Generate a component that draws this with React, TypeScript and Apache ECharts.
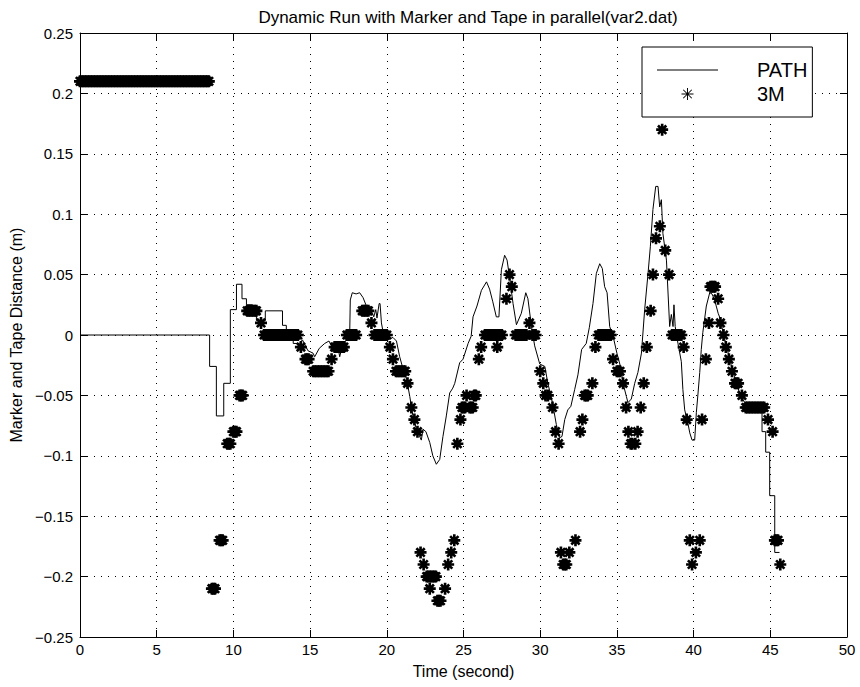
import React, { useEffect, useRef } from "react";
import * as echarts from "echarts";

const titleText = "Dynamic Run with Marker and Tape in parallel(var2.dat)";
const xName = "Time (second)";
const yName = "Marker and Tape Distance (m)";

// PATH: [time (s), distance (m)]
const pathPoints: [number, number][] = [
  [0, 0], [8.45, 0], [8.45, -0.026], [8.89, -0.026], [8.89, -0.067], [9.37, -0.067],
  [9.37, -0.04], [9.8, -0.04], [9.8, 0.021], [10.2, 0.021], [10.2, 0.042], [10.56, 0.042],
  [10.56, 0.03], [10.85, 0.03], [10.85, 0.025], [11.24, 0.025], [11.24, 0.02], [11.5, 0.02],
  [11.5, 0.012], [12.08, 0.012], [12.08, 0.02], [13.2, 0.02], [13.2, 0.008], [13.45, 0.008],
  [13.45, 0], [13.9, 0], [13.9, -0.007], [14.3, -0.007], [14.5, -0.004], [14.86, -0.013],
  [15.19, -0.015], [15.3, -0.018], [15.6, -0.011], [15.95, -0.007], [16.23, -0.005],
  [16.4, -0.009], [16.8, -0.009], [16.93, -0.018], [17.04, -0.012], [17.26, -0.006],
  [17.58, 0], [17.62, 0.029], [17.75, 0.035], [18.0, 0.034], [18.23, 0.035], [18.45, 0.031],
  [18.67, 0.024], [18.89, 0.021], [19.06, 0.018], [19.15, 0.015], [19.28, 0.021],
  [19.36, 0.014], [19.5, 0.026], [19.56, 0.026], [19.65, 0.01], [19.75, 0.003],
  [20.08, -0.004], [20.4, -0.002], [20.63, -0.005], [20.84, -0.018], [21.1, -0.03],
  [21.3, -0.037], [21.5, -0.051], [21.7, -0.067], [21.93, -0.078], [22.25, -0.087],
  [22.36, -0.078], [22.55, -0.08], [22.8, -0.089], [23.0, -0.1], [23.23, -0.107],
  [23.45, -0.103], [23.66, -0.084], [23.88, -0.067], [24.1, -0.048], [24.3, -0.044],
  [24.43, -0.04], [24.75, -0.023], [24.97, -0.02], [25.3, -0.007], [25.5, -0.001],
  [25.62, 0.015], [25.88, 0.024], [26.17, 0.037], [26.5, 0.044], [26.7, 0.038],
  [26.9, 0.028], [27.14, 0.015], [27.31, 0.015], [27.47, 0.054], [27.68, 0.066],
  [27.84, 0.062], [28.0, 0.048], [28.23, 0.026], [28.45, 0.0085], [28.77, 0.018],
  [29.06, 0.035], [29.2, 0.03], [29.43, 0.007], [29.64, -0.009], [29.97, -0.024],
  [30.3, -0.026], [30.5, -0.04], [30.8, -0.056], [31.05, -0.074], [31.27, -0.085],
  [31.42, -0.084], [31.6, -0.07], [31.8, -0.062], [32.0, -0.059], [32.25, -0.045],
  [32.46, -0.033], [32.7, -0.012], [33.0, -0.007], [33.2, 0.006], [33.44, 0.026],
  [33.66, 0.051], [33.88, 0.059], [34.05, 0.055], [34.2, 0.04], [34.36, 0.035],
  [34.53, 0.007], [34.75, -0.001], [35.0, -0.015], [35.23, -0.026], [35.4, -0.04],
  [35.62, -0.051], [35.72, -0.056], [35.94, -0.053], [36.16, -0.04], [36.37, -0.031],
  [36.6, -0.015], [36.81, 0.021], [37.03, 0.051], [37.18, 0.073], [37.35, 0.104],
  [37.53, 0.123], [37.68, 0.123], [37.79, 0.106], [37.9, 0.112], [38.0, 0.084],
  [38.23, 0.062], [38.44, 0.007], [38.55, 0.017], [38.66, 0.007], [38.72, 0.025],
  [38.8, 0.007], [38.98, -0.007], [39.2, -0.022], [39.3, -0.045], [39.42, -0.062],
  [39.63, -0.073], [39.75, -0.081], [39.9, -0.087], [40.07, -0.087], [40.18, -0.064],
  [40.29, -0.048], [40.4, -0.031], [40.5, -0.012], [40.6, 0.002], [40.83, 0.024],
  [41.05, 0.035], [41.2, 0.034], [41.37, 0.029], [41.6, 0.018], [41.75, 0.013],
  [41.92, 0.002], [42.14, -0.009], [42.35, -0.02], [42.57, -0.031], [42.8, -0.04],
  [43.0, -0.048], [43.33, -0.056], [43.65, -0.059], [44.46, -0.06], [44.46, -0.08],
  [44.7, -0.08], [44.7, -0.097], [44.96, -0.097], [44.96, -0.133], [45.29, -0.133],
  [45.29, -0.18], [45.6, -0.18],
];

// 3M marker readings: [time (s), distance (m)]
const markerPoints: [number, number][] = [
  [0.0, 0.21], [0.1, 0.21], [0.2, 0.21], [0.3, 0.21], [0.4, 0.21], [0.5, 0.21],
  [0.6, 0.21], [0.7, 0.21], [0.8, 0.21], [0.9, 0.21], [1.0, 0.21], [1.1, 0.21],
  [1.2, 0.21], [1.3, 0.21], [1.4, 0.21], [1.5, 0.21], [1.6, 0.21], [1.7, 0.21],
  [1.8, 0.21], [1.9, 0.21], [2.0, 0.21], [2.1, 0.21], [2.2, 0.21], [2.3, 0.21],
  [2.4, 0.21], [2.5, 0.21], [2.6, 0.21], [2.7, 0.21], [2.8, 0.21], [2.9, 0.21],
  [3.0, 0.21], [3.1, 0.21], [3.2, 0.21], [3.3, 0.21], [3.4, 0.21], [3.5, 0.21],
  [3.6, 0.21], [3.7, 0.21], [3.8, 0.21], [3.9, 0.21], [4.0, 0.21], [4.1, 0.21],
  [4.2, 0.21], [4.3, 0.21], [4.4, 0.21], [4.5, 0.21], [4.6, 0.21], [4.7, 0.21],
  [4.8, 0.21], [4.9, 0.21], [5.0, 0.21], [5.1, 0.21], [5.2, 0.21], [5.3, 0.21],
  [5.4, 0.21], [5.5, 0.21], [5.6, 0.21], [5.7, 0.21], [5.8, 0.21], [5.9, 0.21],
  [6.0, 0.21], [6.1, 0.21], [6.2, 0.21], [6.3, 0.21], [6.4, 0.21], [6.5, 0.21],
  [6.6, 0.21], [6.7, 0.21], [6.8, 0.21], [6.9, 0.21], [7.0, 0.21], [7.1, 0.21],
  [7.2, 0.21], [7.3, 0.21], [7.4, 0.21], [7.5, 0.21], [7.6, 0.21], [7.7, 0.21],
  [7.8, 0.21], [7.9, 0.21], [8.0, 0.21], [8.1, 0.21], [8.2, 0.21], [8.3, 0.21],
  [8.4, 0.21],
  [8.6, -0.21], [8.7, -0.21], [8.8, -0.21], [9.1, -0.17], [9.2, -0.17], [9.3, -0.17],
  [9.6, -0.09], [9.7, -0.09], [9.8, -0.09], [10.0, -0.08], [10.1, -0.08], [10.2, -0.08],
  [10.4, -0.05], [10.5, -0.05], [10.6, -0.05],
  [10.9, 0.02], [11.0, 0.02], [11.1, 0.02], [11.2, 0.02], [11.3, 0.02], [11.4, 0.02],
  [11.5, 0.02], [11.8, 0.01],
  [12.0, 0], [12.1, 0], [12.2, 0], [12.3, 0], [12.4, 0], [12.5, 0], [12.6, 0], [12.7, 0],
  [12.8, 0], [12.9, 0], [13.0, 0], [13.1, 0], [13.2, 0], [13.3, 0], [13.4, 0], [13.5, 0],
  [13.6, 0], [13.7, 0], [13.8, 0], [13.9, 0], [14.0, 0], [14.1, 0], [14.2, 0],
  [14.4, -0.01], [14.7, -0.02], [14.8, -0.02], [14.9, -0.02],
  [15.2, -0.03], [15.3, -0.03], [15.4, -0.03], [15.5, -0.03], [15.6, -0.03], [15.7, -0.03],
  [15.8, -0.03], [15.9, -0.03], [16.0, -0.03], [16.1, -0.03], [16.2, -0.03],
  [16.4, -0.02], [16.6, -0.01], [16.7, -0.01], [16.8, -0.01], [16.9, -0.01], [17.0, -0.01],
  [17.1, -0.01], [17.2, -0.01],
  [17.4, 0], [17.5, 0], [17.6, 0], [17.7, 0], [17.8, 0], [17.9, 0], [18.0, 0],
  [18.4, 0.02], [18.5, 0.02], [18.6, 0.02], [18.7, 0.02], [18.8, 0.02], [19.0, 0.01],
  [19.2, 0], [19.3, 0], [19.4, 0], [19.5, 0], [19.6, 0], [19.7, 0], [19.8, 0], [19.9, 0],
  [20.0, 0], [20.2, -0.01], [20.4, -0.02],
  [20.6, -0.03], [20.7, -0.03], [20.8, -0.03], [20.9, -0.03], [21.0, -0.03], [21.1, -0.03],
  [21.2, -0.03], [21.35, -0.04], [21.6, -0.06], [21.8, -0.07], [22.0, -0.08],
  [22.2, -0.18], [22.4, -0.19], [22.6, -0.2], [22.7, -0.2], [22.8, -0.21], [22.8, -0.2],
  [22.9, -0.2], [23.0, -0.2], [23.1, -0.2], [23.2, -0.2], [23.3, -0.22], [23.4, -0.22],
  [23.5, -0.22], [23.8, -0.21], [24.0, -0.19], [24.2, -0.18], [24.4, -0.17],
  [24.6, -0.09], [24.8, -0.07],
  [24.9, -0.06], [25.0, -0.06], [25.1, -0.06], [25.2, -0.05], [25.4, -0.06], [25.5, -0.06],
  [25.6, -0.06], [25.7, -0.05], [25.8, -0.05],
  [26.0, -0.02], [26.15, -0.01],
  [26.4, 0], [26.5, 0], [26.6, 0], [26.7, 0], [26.8, 0], [26.9, 0], [27.0, 0], [27.1, 0],
  [27.2, -0.01], [27.2, 0], [27.3, 0], [27.4, 0], [27.5, 0],
  [27.8, 0.03], [28.0, 0.05], [28.15, 0.04],
  [28.4, 0], [28.5, 0], [28.6, 0], [28.7, 0], [28.8, 0], [28.9, 0], [29.0, 0], [29.1, 0],
  [29.3, 0.01], [29.5, 0], [29.6, 0], [29.7, 0],
  [30.0, -0.03], [30.2, -0.04], [30.35, -0.05], [30.5, -0.05], [30.8, -0.06],
  [31.0, -0.08], [31.2, -0.09],
  [31.35, -0.18], [31.5, -0.19], [31.6, -0.19], [31.7, -0.19], [31.9, -0.18], [32.3, -0.17],
  [32.6, -0.08], [32.75, -0.07], [32.9, -0.05], [33.0, -0.05], [33.1, -0.05], [33.4, -0.04],
  [33.6, -0.01],
  [33.8, 0], [33.9, 0], [34.0, 0], [34.1, 0], [34.2, 0], [34.3, 0], [34.4, 0], [34.5, 0],
  [34.6, 0],
  [34.75, -0.02], [35.0, -0.03], [35.1, -0.03], [35.2, -0.03], [35.4, -0.04], [35.6, -0.06],
  [35.75, -0.08], [35.9, -0.09], [36.0, -0.09], [36.2, -0.09], [36.35, -0.08], [36.55, -0.06],
  [36.75, -0.04], [36.95, -0.01], [37.2, 0.02], [37.35, 0.05], [37.55, 0.08],
  [37.8, 0.09], [37.95, 0.17], [38.15, 0.07], [38.4, 0.05],
  [38.6, 0], [38.7, 0], [38.8, 0], [38.9, 0], [39.0, 0], [39.1, 0], [39.2, 0],
  [39.35, -0.01], [39.55, -0.07],
  [39.75, -0.17], [39.9, -0.19], [40.15, -0.18], [40.4, -0.17], [40.55, -0.07],
  [40.8, -0.02], [41.0, 0.01], [41.1, 0.04], [41.2, 0.04], [41.3, 0.04], [41.4, 0.04],
  [41.6, 0.03], [41.75, 0.01],
  [41.95, 0], [42.1, -0.01], [42.3, -0.02], [42.5, -0.03], [42.7, -0.04], [42.8, -0.04],
  [42.9, -0.04], [43.15, -0.05],
  [43.4, -0.06], [43.5, -0.06], [43.6, -0.06], [43.7, -0.06], [43.8, -0.06], [43.9, -0.06],
  [44.0, -0.06], [44.1, -0.06], [44.2, -0.06], [44.3, -0.06], [44.4, -0.06], [44.5, -0.06],
  [44.6, -0.06],
  [44.85, -0.07], [45.15, -0.08], [45.3, -0.17], [45.4, -0.17], [45.5, -0.17], [45.65, -0.19],
];

const xMin = 0;
const xMax = 50;
const xStep = 5;
const yMin = -0.25;
const yMax = 0.25;
const yStep = 0.05;

const FONT = "'Liberation Sans', Arial, Helvetica, sans-serif";

const STAR =
  "path://M0 7.8L20 7.8L20 12.2L0 12.2Z M7.8 0L12.2 0L12.2 20L7.8 20Z " +
  "M1.5 4.6L4.6 1.5L18.5 15.4L15.4 18.5Z M15.4 1.5L18.5 4.6L4.6 18.5L1.5 15.4Z";

const LEGEND_STAR =
  "path://M0 9.2L20 9.2L20 10.8L0 10.8Z M9.2 0L10.8 0L10.8 20L9.2 20Z " +
  "M2.3 3.4L3.4 2.3L17.7 16.6L16.6 17.7Z M16.6 2.3L17.7 3.4L3.4 17.7L2.3 16.6Z";

const LEGEND_LINE = "path://M0 0L61 0L61 1L0 1Z";

const fmtY = (v: number) => {
  const s = String(parseFloat(v.toFixed(2)));
  return s.replace("-", "\u2212");
};

export default function App() {
  const ref = useRef<HTMLDivElement>(null);

  useEffect(() => {
    document.body.style.margin = "0";
    if (!ref.current) return;
    const chart = echarts.init(ref.current, undefined, { renderer: "svg" });

    const grid = { left: 80, right: 13, top: 33, bottom: 50 };
    const gridLine = { show: true, lineStyle: { color: "#000", width: 1, type: [1, 6] as any } };
    const tick = { show: true, inside: true, length: 7, lineStyle: { color: "#000", width: 1 } };
    const axisLine = { show: true, onZero: false, lineStyle: { color: "#000", width: 1 } };

    chart.setOption({
      animation: false,
      backgroundColor: "#fff",
      title: {
        text: titleText,
        left: 463,
        top: 4,
        textAlign: "center",
        textStyle: { fontFamily: FONT, fontSize: 17, fontWeight: "normal", color: "#000" },
      },
      legend: {
        orient: "vertical",
        left: 642,
        top: 47,
        padding: [13, 5, 13, 15],
        itemGap: 4,
        itemWidth: 61,
        itemHeight: 12,
        backgroundColor: "#fff",
        borderColor: "#000",
        borderWidth: 1,
        borderRadius: 0,
        symbolKeepAspect: true,
        textStyle: {
          fontFamily: FONT,
          fontSize: 20,
          lineHeight: 20,
          color: "#000",
          padding: [0, 0, 0, 34],
        },
        data: [
          { name: "PATH", icon: LEGEND_LINE, itemStyle: { color: "#000" } },
          { name: "3M", icon: LEGEND_STAR, itemStyle: { color: "#000" } },
        ],
      },
      grid: { ...grid, containLabel: false },
      xAxis: [
        {
          type: "value",
          min: xMin,
          max: xMax,
          interval: xStep,
          position: "bottom",
          name: xName,
          nameLocation: "middle",
          nameGap: 26,
          nameTextStyle: { fontFamily: FONT, fontSize: 16, color: "#000" },
          axisLine,
          axisTick: tick,
          splitLine: gridLine,
          axisLabel: { fontFamily: FONT, fontSize: 15, color: "#000", margin: 5 },
        },
        {
          type: "value",
          min: xMin,
          max: xMax,
          interval: xStep,
          position: "top",
          axisLine,
          axisTick: tick,
          splitLine: { show: false },
          axisLabel: { show: false },
        },
      ],
      yAxis: [
        {
          type: "value",
          min: yMin,
          max: yMax,
          interval: yStep,
          position: "left",
          name: yName,
          nameLocation: "middle",
          nameGap: 54,
          nameTextStyle: { fontFamily: FONT, fontSize: 16, color: "#000" },
          axisLine,
          axisTick: tick,
          splitLine: gridLine,
          axisLabel: { fontFamily: FONT, fontSize: 15, color: "#000", margin: 7, formatter: fmtY },
        },
        {
          type: "value",
          min: yMin,
          max: yMax,
          interval: yStep,
          position: "right",
          axisLine,
          axisTick: tick,
          splitLine: { show: false },
          axisLabel: { show: false },
        },
      ],
      series: [
        {
          name: "PATH",
          type: "line",
          data: pathPoints,
          xAxisIndex: 0,
          yAxisIndex: 0,
          symbol: "none",
          showSymbol: false,
          lineStyle: { color: "#000", width: 1 },
          itemStyle: { color: "#000" },
          z: 3,
        },
        {
          name: "3M",
          type: "scatter",
          data: markerPoints,
          xAxisIndex: 0,
          yAxisIndex: 0,
          symbol: STAR,
          symbolSize: 12,
          itemStyle: { color: "#000", opacity: 1 },
          z: 4,
        },
      ],
    });

    return () => chart.dispose();
  }, []);

  return (
    <div
      ref={ref}
      style={{ position: "absolute", left: 0, top: 0, width: 860, height: 687 }}
    />
  );
}
